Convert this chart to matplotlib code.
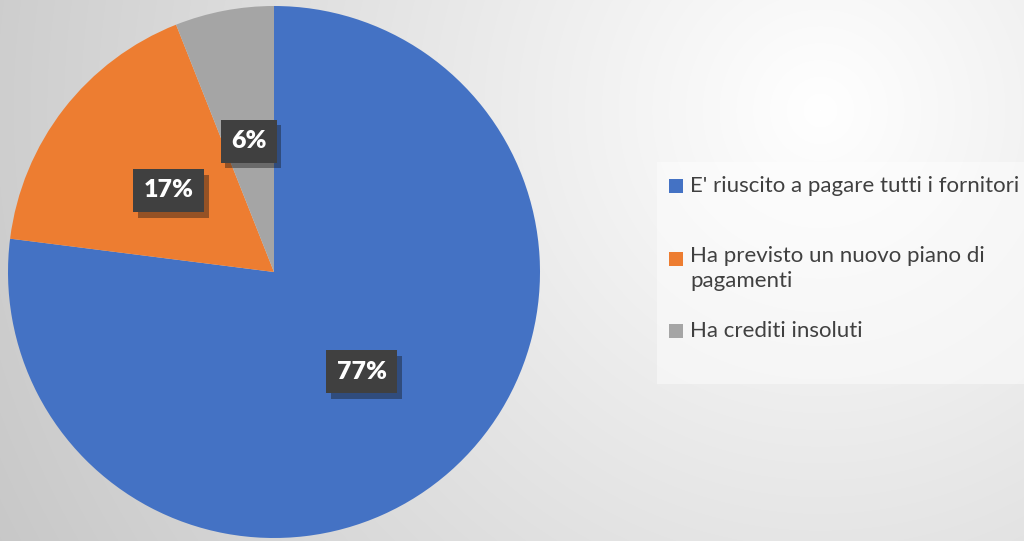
import matplotlib.pyplot as plt
import numpy as np
from matplotlib import patheffects as pe
from matplotlib.patches import Rectangle

LABELS = [
    "E' riuscito a pagare tutti i fornitori",
    "Ha previsto un nuovo piano di\npagamenti",
    "Ha crediti insoluti",
]
VALUES = [77, 17, 6]
COLORS = ["#4472C4", "#ED7D31", "#A5A5A5"]

W, H = 1024, 541
fig = plt.figure(figsize=(W / 100, H / 100), dpi=100)

# --- background: soft radial gradient, bright towards the upper right ---
bg = fig.add_axes([0, 0, 1, 1])
yy, xx = np.mgrid[0:H, 0:W]
d = np.hypot(xx - 820, yy - 110) / 900.0
shade = np.clip(1.0 - 0.21 * d, 0.78, 1.0)
bg.imshow(np.dstack([shade] * 3), extent=[0, W, H, 0], aspect="auto", zorder=0)
bg.set_xlim(0, W)
bg.set_ylim(H, 0)
bg.axis("off")

# --- legend panel (drawn by hand to keep Excel-like spacing) ---
bg.add_patch(Rectangle((657, 162), W - 657, 222, facecolor="white", alpha=0.45,
                       edgecolor="none", zorder=1))
legend_y = [186, 259, 331]
for lab, col, y in zip(LABELS, COLORS, legend_y):
    bg.add_patch(Rectangle((669, y - 7), 14, 14, facecolor=col, edgecolor="none", zorder=2))
    bg.text(690, y, lab, fontsize=16, family="Lato", color="#404040",
            va="top" if "\n" in lab else "center", ha="left", zorder=3,
            linespacing=1.3)
# nudge the wrapped label so its first line centres on its marker
bg.texts[1].set_position((690, legend_y[1] - 13))

# --- pie ---
cx, cy, r = 274, 272, 266
ax = fig.add_axes([(cx - r) / W, (H - cy - r) / H, 2 * r / W, 2 * r / H])
wedges, texts = ax.pie(
    VALUES,
    colors=COLORS,
    startangle=90,
    counterclock=False,
    labels=[f"{v}%" for v in VALUES],
    labeldistance=0.5,
    wedgeprops=dict(linewidth=0),
    textprops=dict(color="white", fontsize=18, fontweight="heavy", family="Lato",
                   ha="center", va="center"),
)
for t in texts:
    t.set_bbox(dict(boxstyle="square,pad=0.42", facecolor="#404040", edgecolor="none"))
    t.get_bbox_patch().set_path_effects(
        [pe.SimplePatchShadow(offset=(3, -4), alpha=0.4), pe.Normal()]
    )
ax.set_xlim(-1, 1)
ax.set_ylim(-1, 1)
ax.set_aspect("equal")
ax.axis("off")

fig.savefig("out.png", dpi=100)
